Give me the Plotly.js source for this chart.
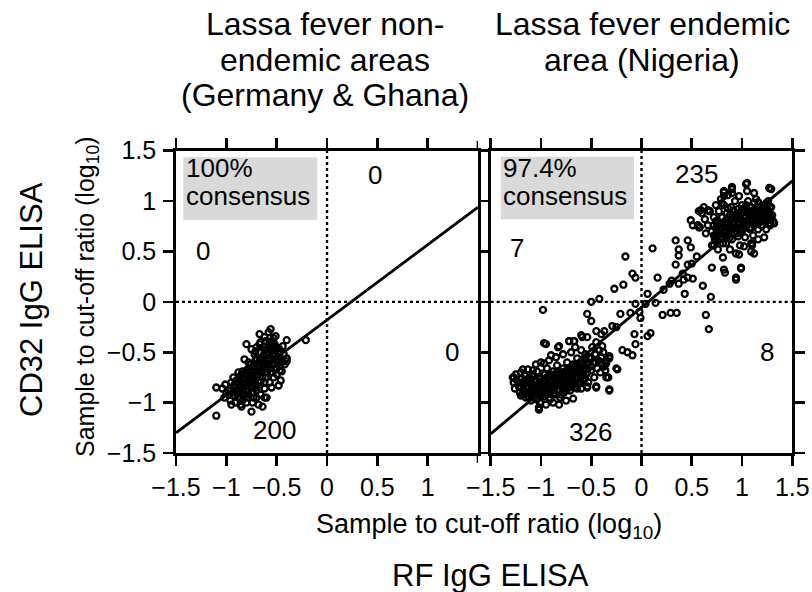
<!DOCTYPE html>
<html><head><meta charset="utf-8">
<script src="https://cdn.plot.ly/plotly-3.0.1.min.js"></script>
<style>html,body{margin:0;padding:0;background:#fff;}#chart{width:812px;height:592px;}</style>
</head><body><div id="chart"></div>
<script>
// ---- Data ----
var leftTickValues = [-1.5, -1, -0.5, 0, 0.5, 1];
var tickValues = [-1.5, -1, -0.5, 0, 0.5, 1, 1.5];
var leftTickText = ['\u22121.5', '\u22121', '\u22120.5', '0', '0.5', '1'];
var tickText = ['\u22121.5', '\u22121', '\u22120.5', '0', '0.5', '1', '1.5'];

// Left panel: non-endemic areas (Germany & Ghana)
var leftX = [-1.10,-1.10,-1.01,-0.21,-0.40,-0.40,-0.51,-0.56,-0.67,-0.80,-0.75,-0.82,-0.75,-0.85,-0.64,-0.62,-0.48,-0.45,-0.46,-0.54,-0.61,-0.71,-0.73,-0.95,-0.90,-0.81,-0.89,-0.84,-0.76,-0.66,-0.59,-0.52,-0.61,-0.67,-0.71,-0.81,-0.97,-1.02,
 -0.98,-0.95,-0.93,-0.92,-0.90,-0.88,-0.87,-0.86,-0.85,-0.84,-0.83,-0.82,-0.81,-0.80,-0.79,-0.78,-0.77,-0.76,-0.75,-0.74,-0.73,-0.72,-0.71,-0.70,-0.69,-0.68,-0.67,-0.66,-0.65,-0.64,-0.63,-0.62,-0.61,-0.60,-0.59,-0.58,-0.57,-0.56,-0.55,-0.54,-0.53,-0.52,-0.51,-0.50,-0.49,-0.48,-0.47,-0.45,-0.43,-0.44,-0.58,-0.62,-0.66,-0.70,-0.72,-0.78,-0.88,-0.93,-1.00,-1.04,-0.96,-0.91,-0.86,-0.80,-0.74,-0.70,-0.66,-0.62,-0.57,-0.53,-0.50,-0.47,-0.42,-0.40,-0.60,-0.68,-0.55,-0.46,
 -0.92,-0.92,-0.88,-0.88,-0.84,-0.84,-0.84,-0.80,-0.80,-0.80,-0.76,-0.76,-0.76,-0.72,-0.72,-0.72,-0.68,-0.68,-0.68,-0.64,-0.64,-0.64,-0.60,-0.60,-0.60,-0.56,-0.56,-0.56,-0.52,-0.52,-0.52,-0.48,-0.48,-0.86,-0.86,-0.78,-0.78,-0.70,-0.70,-0.62,-0.62,-0.54,-0.54];
var leftY = [-1.13,-0.85,-0.82,-0.38,-0.38,-0.59,-0.34,-0.27,-0.32,-0.42,-0.47,-0.57,-1.09,-1.04,-1.04,-0.95,-0.83,-0.69,-0.49,-0.52,-0.62,-0.69,-0.95,-1.02,-0.89,-0.82,-0.79,-0.69,-0.62,-0.56,-0.46,-0.42,-0.39,-0.42,-0.49,-0.92,-0.92,-0.95,
 -0.88,-0.80,-0.93,-0.85,-0.78,-0.95,-0.87,-0.80,-0.72,-0.98,-0.90,-0.84,-0.76,-0.68,-0.95,-0.88,-0.80,-0.73,-0.65,-0.90,-0.84,-0.77,-0.58,-0.85,-0.72,-0.64,-0.50,-0.80,-0.70,-0.60,-0.53,-0.45,-0.75,-0.66,-0.58,-0.50,-0.40,-0.70,-0.62,-0.44,-0.36,-0.56,-0.48,-0.66,-0.58,-0.46,-0.55,-0.60,-0.52,-0.44,-0.30,-0.35,-0.40,-0.45,-0.52,-0.60,-0.70,-0.75,-0.90,-0.86,-0.98,-1.00,-1.02,-1.00,-1.00,-0.95,-0.92,-0.86,-0.80,-0.75,-0.72,-0.68,-0.62,-0.56,-0.95,-1.02,-0.85,-0.78,
 -0.90,-0.82,-0.88,-0.80,-0.92,-0.84,-0.76,-0.88,-0.80,-0.72,-0.85,-0.77,-0.69,-0.81,-0.73,-0.64,-0.78,-0.69,-0.60,-0.74,-0.65,-0.56,-0.70,-0.61,-0.52,-0.66,-0.57,-0.48,-0.62,-0.53,-0.44,-0.58,-0.50,-0.96,-0.74,-0.92,-0.66,-0.88,-0.56,-0.80,-0.48,-0.70,-0.40];

// Right panel: endemic area (Nigeria)
var rightX = [
 -1.28,-1.27,-1.25,-1.24,-1.22,-1.20,-1.19,-1.18,-1.17,-1.16,-1.15,-1.14,-1.13,-1.12,-1.11,-1.10,-1.09,-1.08,-1.07,-1.06,-1.05,-1.04,-1.03,-1.02,-1.01,-1.00,-0.99,-0.98,-0.97,-0.96,-0.95,-0.94,-0.93,-0.92,-0.91,-0.90,-0.89,-0.88,-0.87,-0.86,-0.85,-0.84,-0.83,-0.82,-0.81,-0.80,-0.79,-0.78,-0.77,-0.76,-0.75,-0.74,-0.73,-0.72,-0.71,-0.70,-0.69,-0.68,-0.67,-0.66,-0.65,-0.64,-0.63,-0.62,-0.61,-0.60,-0.59,-0.58,-0.57,-0.56,-0.55,-0.54,-0.53,-0.52,-0.50,-0.49,-0.48,-0.47,-0.46,-0.45,-0.44,-0.43,-0.42,-0.41,-0.40,-0.39,-0.38,-0.36,-0.35,-0.33,-1.02,-0.95,-0.88,-0.82,-0.75,-0.68,-1.10,-1.15,-1.21,-1.05,-1.00,-0.92,-0.85,-0.78,-0.70,-0.66,-0.60,
 -1.26,-1.18,-1.00,-1.12,-1.08,-0.96,-0.90,-0.86,-0.79,-0.74,-0.70,-0.63,
 -1.20,-1.20,-1.20,-1.16,-1.16,-1.16,-1.12,-1.12,-1.12,-1.08,-1.08,-1.08,-1.04,-1.04,-1.04,-1.00,-1.00,-1.00,-0.96,-0.96,-0.96,-0.92,-0.92,-0.92,-0.88,-0.88,-0.88,-0.84,-0.84,-0.84,-0.80,-0.80,-0.80,-0.76,-0.76,-0.76,-0.72,-0.72,-0.72,-0.68,-0.68,-0.68,-0.64,-0.64,-0.64,-0.60,-0.60,-0.60,-0.56,-0.56,-0.56,
 -1.18,-1.18,-1.14,-1.14,-1.10,-1.10,-1.06,-1.06,-1.02,-1.02,-0.98,-0.98,-0.94,-0.94,-0.90,-0.90,-0.86,-0.86,-0.82,-0.82,-0.78,-0.78,-0.74,-0.74,-0.70,-0.70,-0.66,-0.66,-0.62,-0.62,-0.58,-0.58,-0.54,-0.54,-0.50,-0.50,-0.46,-0.46,
 -0.97,-0.82,-0.72,-0.67,-0.60,-0.54,-0.32,-0.25,-0.32,-0.45,-0.54,-1.02,-0.97,-0.90,-0.39,-0.35,
 0.60,0.63,0.66,0.68,0.70,0.72,0.73,0.74,0.75,0.76,0.77,0.78,0.79,0.80,0.81,0.82,0.83,0.84,0.85,0.86,0.87,0.88,0.89,0.90,0.91,0.92,0.93,0.94,0.95,0.96,0.97,0.98,0.99,1.00,1.01,1.02,1.03,1.04,1.05,1.06,1.07,1.08,1.09,1.10,1.11,1.12,1.13,1.14,1.15,1.16,1.17,1.18,1.19,1.20,1.21,1.22,1.23,1.24,1.25,1.26,1.27,1.28,1.30,1.31,1.29,1.26,1.12,1.05,0.97,0.90,0.82,0.88,0.94,1.02,1.10,1.16,1.22,0.70,0.76,0.64,0.58,0.62,
 0.92,0.98,1.08,1.18,1.24,0.86,0.80,0.74,
 0.72,0.72,0.72,0.76,0.76,0.76,0.80,0.80,0.80,0.84,0.84,0.84,0.88,0.88,0.88,0.92,0.92,0.92,0.96,0.96,0.96,1.00,1.00,1.00,1.04,1.04,1.04,1.08,1.08,1.08,1.12,1.12,1.12,1.16,1.16,1.16,1.20,1.20,1.20,1.24,1.24,1.24,1.28,1.28,1.28,
 0.74,0.74,0.78,0.78,0.82,0.82,0.86,0.86,0.90,0.90,0.94,0.94,0.98,0.98,1.02,1.02,1.06,1.06,1.10,1.10,1.14,1.14,1.18,1.18,1.22,1.22,1.26,1.26,
 1.05,1.27,0.90,0.82,0.82,0.59,0.66,0.51,0.56,0.82,0.99,0.94,1.09,1.09,1.32,
 1.04,1.29,0.90,0.82,0.57,0.67,0.49,0.57,0.34,0.46,0.37,0.49,0.34,0.37,0.46,0.41,0.46,0.51,0.37,0.28,0.16,0.11,-0.16,-0.09,-0.06,-0.18,-0.27,-0.42,-0.50,-0.98,-0.54,-0.50,-0.21,-0.11,-0.06,0.06,0.14,0.21,0.29,0.35,-0.01,0.09,0.06,-0.07,-0.06,-0.19,-0.14,-0.09,-0.24,-0.32,-0.37,-0.32,-0.45,-0.54,-0.35,-0.45,-0.37,-0.29,-0.72,-0.67,-0.59,-0.83,-0.95,-1.02,-1.27,-1.27,-1.18,
 0.61,0.69,0.64,0.67,0.43,0.83,0.94,0.99,0.70,0.81,1.12,1.10,0.97,0.42,0.30,0.22,0.04,-0.02,-0.25,-0.40,0.50,0.55];
var rightY = [
 -0.75,-0.80,-0.72,-0.78,-0.84,-0.70,-0.76,-0.82,-0.88,-0.73,-0.79,-0.85,-0.67,-0.91,-0.76,-0.82,-0.88,-0.72,-0.95,-0.79,-0.85,-0.69,-0.91,-0.75,-1.00,-0.82,-0.88,-0.71,-0.94,-0.78,-0.84,-0.66,-0.90,-0.74,-0.97,-0.80,-0.86,-0.69,-0.92,-0.76,-0.82,-0.63,-0.88,-0.72,-0.95,-0.78,-0.84,-0.66,-0.90,-0.70,-0.76,-0.60,-0.82,-0.67,-0.88,-0.73,-0.79,-0.62,-0.85,-0.68,-0.74,-0.56,-0.80,-0.65,-0.71,-0.86,-0.60,-0.76,-0.68,-0.52,-0.72,-0.62,-0.80,-0.55,-0.68,-0.45,-0.60,-0.75,-0.52,-0.40,-0.66,-0.58,-0.48,-0.70,-0.55,-0.62,-0.50,-0.68,-0.58,-0.75,-1.05,-1.02,-1.00,-1.02,-0.98,-0.96,-0.98,-0.95,-0.90,-0.62,-0.60,-0.58,-0.55,-0.52,-0.50,-0.45,-0.48,
 -0.86,-0.92,-0.93,-0.78,-0.68,-0.87,-0.72,-0.91,-0.70,-0.86,-0.81,-0.68,
 -0.93,-0.84,-0.76,-0.90,-0.81,-0.73,-0.95,-0.86,-0.78,-0.92,-0.83,-0.74,-0.97,-0.88,-0.79,-0.93,-0.85,-0.76,-0.90,-0.81,-0.72,-0.95,-0.86,-0.77,-0.91,-0.82,-0.73,-0.88,-0.79,-0.70,-0.92,-0.83,-0.74,-0.88,-0.79,-0.69,-0.85,-0.75,-0.66,-0.82,-0.72,-0.63,-0.86,-0.77,-0.68,-0.80,-0.70,-0.61,-0.76,-0.66,-0.58,
 -0.88,-0.80,-0.84,-0.77,-0.90,-0.80,-0.86,-0.77,-0.92,-0.82,-0.88,-0.78,-0.84,-0.75,-0.89,-0.79,-0.85,-0.76,-0.81,-0.72,-0.86,-0.76,-0.82,-0.72,-0.78,-0.69,-0.75,-0.65,-0.80,-0.71,-0.73,-0.63,-0.70,-0.60,-0.64,-0.56,-0.60,-0.52,
 -0.41,-0.44,-0.39,-0.39,-0.33,-0.35,-0.54,-0.66,-0.87,-0.84,-0.84,-1.05,-0.61,-0.53,-0.44,-0.61,
 0.88,0.82,0.76,0.90,0.70,0.84,0.62,0.96,0.78,0.66,0.90,0.72,1.02,0.84,0.58,0.96,0.76,0.66,0.88,1.06,0.70,0.80,0.94,0.62,0.86,0.74,1.00,0.82,0.68,0.92,0.78,0.56,0.88,0.96,0.72,0.84,0.64,0.92,0.80,1.00,0.86,0.74,0.94,0.82,0.66,0.90,0.78,1.02,0.86,0.72,0.94,0.84,0.76,0.90,0.80,0.96,0.86,0.72,0.92,0.82,0.88,0.76,0.86,0.80,0.94,1.00,1.08,1.10,1.05,1.08,1.10,0.52,0.48,0.55,0.58,0.62,0.64,0.56,0.52,0.68,0.74,0.94,
 0.90,0.84,0.88,0.80,0.85,0.93,0.98,0.80,
 0.56,0.66,0.76,0.60,0.70,0.80,0.63,0.73,0.84,0.58,0.70,0.81,0.64,0.75,0.86,0.68,0.79,0.90,0.65,0.76,0.88,0.70,0.81,0.92,0.74,0.85,0.96,0.72,0.83,0.94,0.76,0.87,0.98,0.78,0.88,0.99,0.76,0.86,0.96,0.80,0.89,0.98,0.78,0.86,0.93,
 0.64,0.73,0.67,0.77,0.70,0.79,0.66,0.78,0.72,0.83,0.74,0.85,0.72,0.84,0.78,0.89,0.80,0.91,0.79,0.90,0.82,0.93,0.82,0.92,0.83,0.92,0.84,0.91,
 1.18,1.13,1.14,1.09,1.05,0.91,0.91,0.76,0.76,0.32,0.34,0.24,0.58,0.50,0.78,
 1.17,1.12,1.12,1.09,0.90,0.90,0.81,0.74,0.61,0.61,0.52,0.54,0.37,0.46,0.37,0.28,0.24,0.23,0.18,0.18,0.24,0.53,0.45,0.28,0.24,0.17,0.13,0.03,0.00,-0.08,-0.12,-0.19,-0.12,-0.11,-0.02,0.08,-0.01,-0.13,-0.11,-0.11,-0.16,-0.31,-0.34,-0.32,-0.42,-0.48,-0.50,-0.53,-0.67,-0.56,-0.64,-0.88,-0.85,-0.85,-0.75,-0.29,-0.29,-0.24,-0.39,-0.39,-0.35,-0.45,-0.42,-1.07,-0.75,-0.80,-0.67,
 0.16,0.05,-0.13,-0.27,0.08,0.29,0.22,0.33,0.34,0.44,0.48,0.56,0.47,0.22,0.21,0.12,-0.02,-0.10,-0.25,-0.32,0.38,0.45];

// Regression lines (end points read at the panel edges)
var fitX = [-1.5, 1.5];
var leftFitY = [-1.30, 0.94];
var rightFitY = [-1.31, 1.20];

// Quadrant counts and consensus
var leftCounts = [{t:'0', x:0.48, y:1.26}, {t:'0', x:-1.23, y:0.50}, {t:'0', x:1.24, y:-0.50}, {t:'200', x:-0.52, y:-1.27}];
var rightCounts = [{t:'235', x:0.55, y:1.27}, {t:'7', x:-1.24, y:0.53}, {t:'8', x:1.25, y:-0.50}, {t:'326', x:-0.51, y:-1.29}];
var leftConsensus = '100%';
var rightConsensus = '97.4%';

// ---- Drawing ----
var FONT = 'Liberation Sans, Arial, Helvetica, sans-serif';
var W = 812, H = 592;
function px(v){ return v / W; }
function py(v){ return 1 - v / H; }

var markerStyle = {symbol: 'circle-open', size: 6, color: '#000', line: {width: 2.3, color: '#000'}};
var traces = [
  {x: leftX, y: leftY, xaxis: 'x', yaxis: 'y', mode: 'markers', type: 'scatter', marker: markerStyle, hoverinfo: 'skip'},
  {x: rightX, y: rightY, xaxis: 'x2', yaxis: 'y2', mode: 'markers', type: 'scatter', marker: markerStyle, hoverinfo: 'skip'},
  {x: fitX, y: leftFitY, xaxis: 'x', yaxis: 'y', mode: 'lines', type: 'scatter', line: {color: '#000', width: 2.8}, hoverinfo: 'skip'},
  {x: fitX, y: rightFitY, xaxis: 'x2', yaxis: 'y2', mode: 'lines', type: 'scatter', line: {color: '#000', width: 2.8}, hoverinfo: 'skip'}
];

function axisBase(domain, anchor) {
  return {
    domain: domain, anchor: anchor, range: [-1.5, 1.5], autorange: false,
    showgrid: false, zeroline: false, showline: true, linecolor: '#000', linewidth: 2.8,
    mirror: 'ticks', ticks: 'outside', ticklen: 10, tickwidth: 2.6, tickcolor: '#000',
    tickfont: {family: FONT, size: 25, color: '#000'}, automargin: false, fixedrange: true
  };
}
var xd1 = [px(176), px(478)], xd2 = [px(490.7), px(792.3)], yd = [py(453), py(150.7)];

var xaxis = axisBase(xd1, 'y'); xaxis.tickmode = 'array'; xaxis.tickvals = leftTickValues; xaxis.ticktext = leftTickText;
var xaxis2 = axisBase(xd2, 'y2'); xaxis2.tickmode = 'array'; xaxis2.tickvals = tickValues; xaxis2.ticktext = tickText;
var yaxis = axisBase(yd, 'x'); yaxis.tickmode = 'array'; yaxis.tickvals = tickValues; yaxis.ticktext = tickText; yaxis.ticklabelstandoff = 2;
var yaxis2 = axisBase(yd, 'x2'); yaxis2.tickmode = 'array'; yaxis2.tickvals = tickValues; yaxis2.showticklabels = false;

var shapes = [];
// unlabeled tick marks at x = 1.5 of the left panel (bottom and top)
shapes.push({type: 'line', xref: 'x', yref: 'paper', x0: 1.5, x1: 1.5, y0: py(453), y1: py(463), line: {color: '#000', width: 2.6}});
shapes.push({type: 'line', xref: 'x', yref: 'paper', x0: 1.5, x1: 1.5, y0: py(150.7), y1: py(140.7), line: {color: '#000', width: 2.6}});
[['x','y'],['x2','y2']].forEach(function(r){
  shapes.push({type: 'line', xref: r[0], yref: r[1], x0: 0, x1: 0, y0: -1.5, y1: 1.5, line: {color: '#000', width: 2.4, dash: '3px,3px'}, layer: 'below'});
  shapes.push({type: 'line', xref: r[0], yref: r[1], x0: -1.5, x1: 1.5, y0: 0, y1: 0, line: {color: '#000', width: 2.4, dash: '3px,3px'}, layer: 'below'});
});
shapes.push({type: 'rect', xref: 'x', yref: 'y', x0: -1.427, x1: -0.096, y0: 0.812, y1: 1.435, fillcolor: '#d9d9d9', line: {width: 0}, layer: 'below'});
shapes.push({type: 'rect', xref: 'x2', yref: 'y2', x0: -1.40, x1: -0.074, y0: 0.819, y1: 1.44, fillcolor: '#d9d9d9', line: {width: 0}, layer: 'below'});

var ann = [];
function txt(o){ o.showarrow = false; o.font = o.font || {family: FONT, size: 26, color: '#000'}; ann.push(o); }
leftCounts.forEach(function(c){ txt({text: c.t, xref: 'x', yref: 'y', x: c.x, y: c.y, xanchor: 'center', yanchor: 'middle'}); });
rightCounts.forEach(function(c){ txt({text: c.t, xref: 'x2', yref: 'y2', x: c.x, y: c.y, xanchor: 'center', yanchor: 'middle'}); });
txt({text: leftConsensus, xref: 'x', yref: 'y', x: -1.42, y: 1.33, xanchor: 'left', yanchor: 'middle'});
txt({text: 'consensus', xref: 'x', yref: 'y', x: -1.42, y: 1.05, xanchor: 'left', yanchor: 'middle'});
txt({text: rightConsensus, xref: 'x2', yref: 'y2', x: -1.40, y: 1.33, xanchor: 'left', yanchor: 'middle'});
txt({text: 'consensus', xref: 'x2', yref: 'y2', x: -1.40, y: 1.05, xanchor: 'left', yanchor: 'middle'});

var titleFont = {family: FONT, size: 32, color: '#000'};
var leftTitle = ['Lassa fever non-', 'endemic areas', '(Germany &amp; Ghana)'];
var rightTitle = ['Lassa fever endemic', 'area (Nigeria)'];
var lineCenters = [24, 59.5, 95];
leftTitle.forEach(function(t, i){ txt({text: t, xref: 'paper', yref: 'paper', x: px(325), y: py(lineCenters[i]), xanchor: 'center', yanchor: 'middle', font: titleFont}); });
rightTitle.forEach(function(t, i){ txt({text: t, xref: 'paper', yref: 'paper', x: px(642), y: py(lineCenters[i]), xanchor: 'center', yanchor: 'middle', font: titleFont}); });

txt({text: 'Sample to cut-off ratio (log<sub>10</sub>)', xref: 'paper', yref: 'paper', x: px(489), y: py(526), xanchor: 'center', yanchor: 'middle', font: {family: FONT, size: 27, color: '#000'}});
txt({text: 'RF IgG ELISA', xref: 'paper', yref: 'paper', x: px(490), y: py(575), xanchor: 'center', yanchor: 'middle', font: {family: FONT, size: 31, color: '#000'}});
txt({text: 'CD32 IgG ELISA', xref: 'paper', yref: 'paper', x: px(31), y: py(300), xanchor: 'center', yanchor: 'middle', textangle: -90, font: {family: FONT, size: 31, color: '#000'}});
txt({text: 'Sample to cut-off ratio (log<sub>10</sub>)', xref: 'paper', yref: 'paper', x: px(87), y: py(297), xanchor: 'center', yanchor: 'middle', textangle: -90, font: {family: FONT, size: 25, color: '#000'}});

var layout = {
  width: W, height: H, margin: {l: 0, r: 0, t: 0, b: 0},
  paper_bgcolor: '#fff', plot_bgcolor: 'rgba(0,0,0,0)', showlegend: false,
  xaxis: xaxis, yaxis: yaxis, xaxis2: xaxis2, yaxis2: yaxis2,
  shapes: shapes, annotations: ann, font: {family: FONT, color: '#000'}
};
Plotly.newPlot('chart', traces, layout, {staticPlot: true, displayModeBar: false});
</script></body></html>
